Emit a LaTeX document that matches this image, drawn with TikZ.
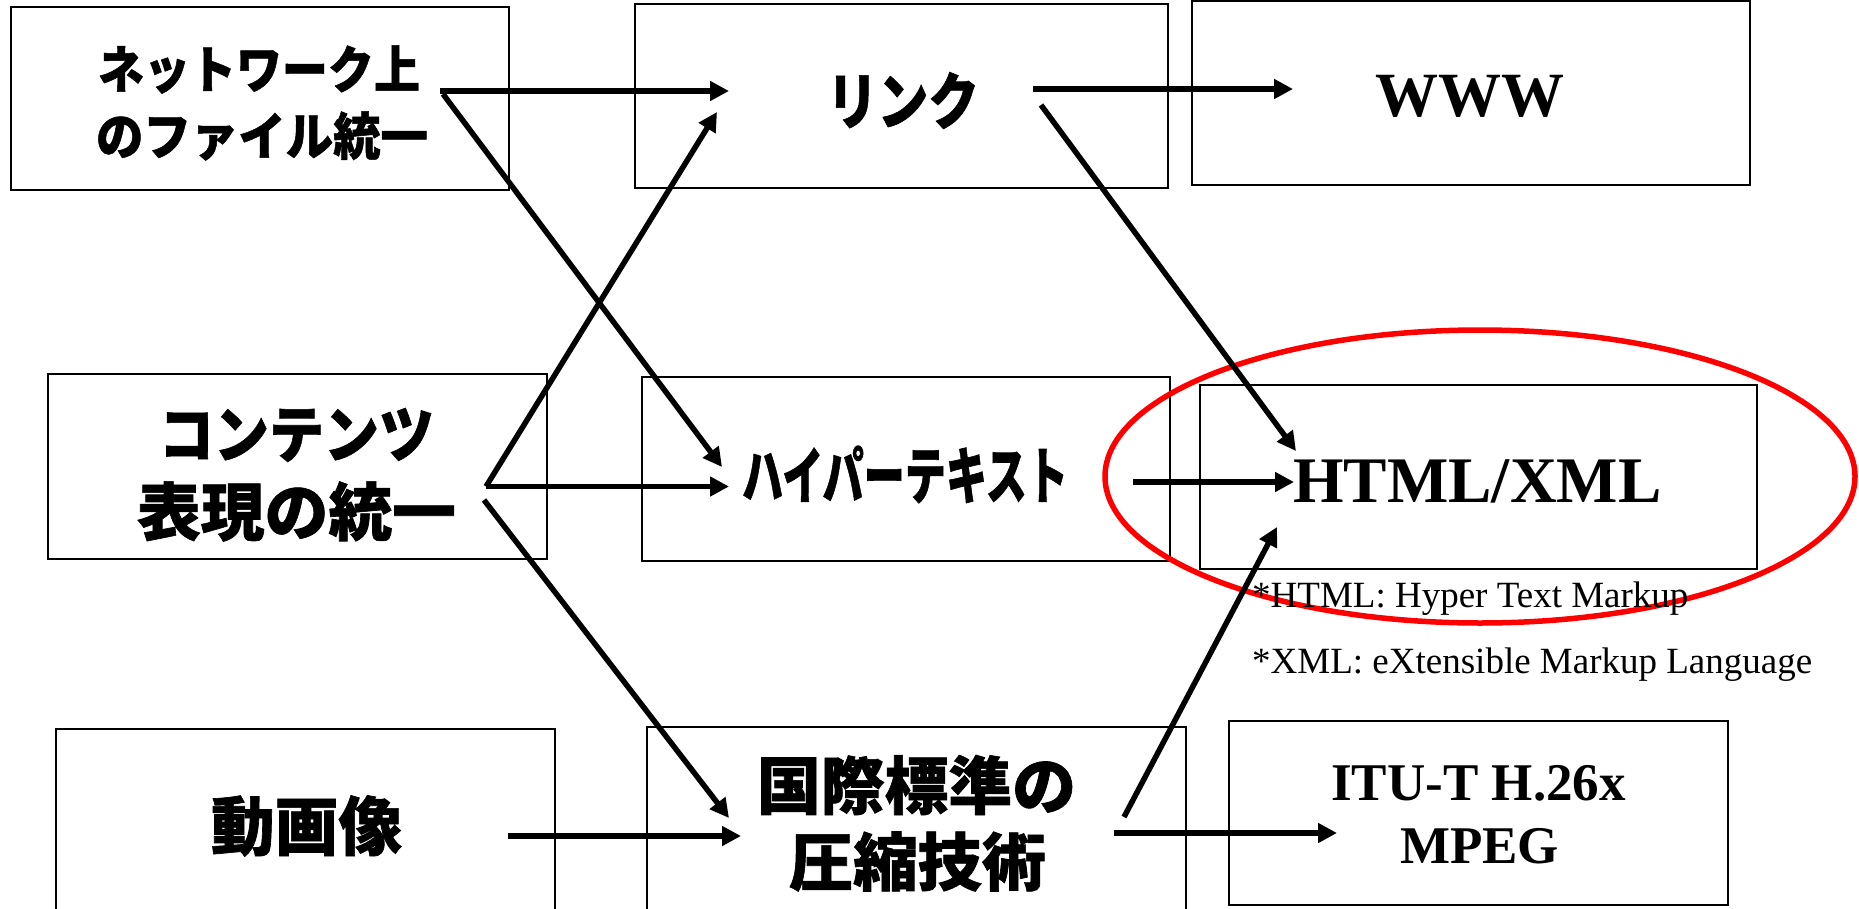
\documentclass[tikz,border=0pt]{standalone}
\usepackage{fontspec}
\usepackage{graphicx}
\setmainfont{Liberation Serif}
\newfontfamily\jp{Noto Sans CJK JP}[BoldFeatures={FakeBold=1}]
\usetikzlibrary{arrows.meta}
\begin{document}
\begin{tikzpicture}[x=1pt,y=-1pt,
  box/.style={draw, line width=1.6pt, rectangle, inner sep=0pt},
  jtext/.style={inner sep=0pt, font=\jp\bfseries\fontsize{#1}{#1}\selectfont},
  etext/.style={inner sep=0pt, anchor=base, font=\bfseries\fontsize{#1}{#1}\selectfont},
  note/.style={inner sep=0pt, anchor=base west, font=\fontsize{37}{37}\selectfont},
  arr/.style={line width=5.5pt, -{Triangle[length=19pt,width=19pt]}},
  ring/.style={draw=red, line width=5.5pt}]
\useasboundingbox (0,0) rectangle (1859,909);

% boxes
\node[box, minimum width=498pt, minimum height=183pt] (netbox) at (260,98.5) {};
\node[box, minimum width=533pt, minimum height=184pt] (linkbox) at (901.5,96) {};
\node[box, minimum width=558pt, minimum height=184pt] (wwwbox) at (1471,93) {};
\node[box, minimum width=499pt, minimum height=185pt] (contbox) at (297.5,466.5) {};
\node[box, minimum width=528pt, minimum height=184pt] (hypbox) at (906,469) {};
\node[box, minimum width=557pt, minimum height=184pt] (htmlbox) at (1478.5,477) {};
\node[box, minimum width=499pt, minimum height=184pt] (dougabox) at (305.5,821) {};
\node[box, minimum width=539pt, minimum height=184pt] (kokubox) at (916.5,819) {};
\node[box, minimum width=499pt, minimum height=184pt] (itubox) at (1478.5,813) {};

% red ellipse
\draw[ring] (1480,476.5) ellipse [x radius=375, y radius=146.5];

% texts
\node[jtext=51] (net1) at (259,69.5) {\resizebox{322pt}{\height}{ネットワーク上}};
\node[jtext=51] (net2) at (262,136) {\resizebox{332pt}{\height}{のファイル統一}};
\node[jtext=62] (linkt) at (903,100.5) {\resizebox{152pt}{\height}{リンク}};
\node[etext=63] (wwwt) at (1470,117) {WWW};
\node[jtext=62] (cont1) at (296.5,435) {\resizebox{275pt}{\height}{コンテンツ}};
\node[jtext=63] (cont2) at (296.5,511.5) {\resizebox{319pt}{\height}{表現の統一}};
\node[jtext=62] (hypt) at (905,474.5) {\resizebox{326pt}{\height}{ハイパーテキスト}};
\node[etext=65] (htmlt) at (1477.5,502) {HTML/XML};
\node[note] (note1) at (1252,607) {*HTML: Hyper Text Markup};
\node[note] (note2) at (1252,673) {*XML: eXtensible Markup Language};
\node[jtext=64] (dougat) at (306.5,826) {\resizebox{191pt}{\height}{動画像}};
\node[jtext=63] (koku1) at (916.5,785) {\resizebox{319pt}{\height}{国際標準の}};
\node[jtext=63] (koku2) at (917.5,861.5) {\resizebox{257pt}{\height}{圧縮技術}};
\node[etext=53] (itu1) at (1478.5,800) {ITU-T H.26x};
\node[etext=53] (itu2) at (1479.5,863) {MPEG};

% connector ports
\coordinate (netout) at (440,91);
\coordinate (netout2) at (443,94);
\coordinate (linkin) at (729,91);
\coordinate (linkin2) at (717,112);
\coordinate (contout) at (486,486.5);
\coordinate (contout2) at (484,500);
\coordinate (hypin) at (729,486.5);
\coordinate (hypin2) at (722,467);
\coordinate (linkout) at (1033,89);
\coordinate (linkout2) at (1041,105);
\coordinate (wwwin) at (1293,89);
\coordinate (hypout) at (1133,482);
\coordinate (htmlin) at (1294,482);
\coordinate (htmlin2) at (1296,451);
\coordinate (htmlin3) at (1277,527);
\coordinate (dougaout) at (508,836);
\coordinate (kokuin) at (741,836);
\coordinate (kokuin2) at (729,818);
\coordinate (kokuout) at (1114,833);
\coordinate (kokuout2) at (1124,817);
\coordinate (ituin) at (1337,833);

% connectors
\draw[arr] (netout) -- (linkin);
\draw[arr] (netout2) -- (hypin2);
\draw[arr] (contout) -- (linkin2);
\draw[arr] (contout) -- (hypin);
\draw[arr] (contout2) -- (kokuin2);
\draw[arr] (linkout) -- (wwwin);
\draw[arr] (linkout2) -- (htmlin2);
\draw[arr] (hypout) -- (htmlin);
\draw[arr] (dougaout) -- (kokuin);
\draw[arr] (kokuout) -- (ituin);
\draw[arr] (kokuout2) -- (htmlin3);
\end{tikzpicture}
\end{document}
